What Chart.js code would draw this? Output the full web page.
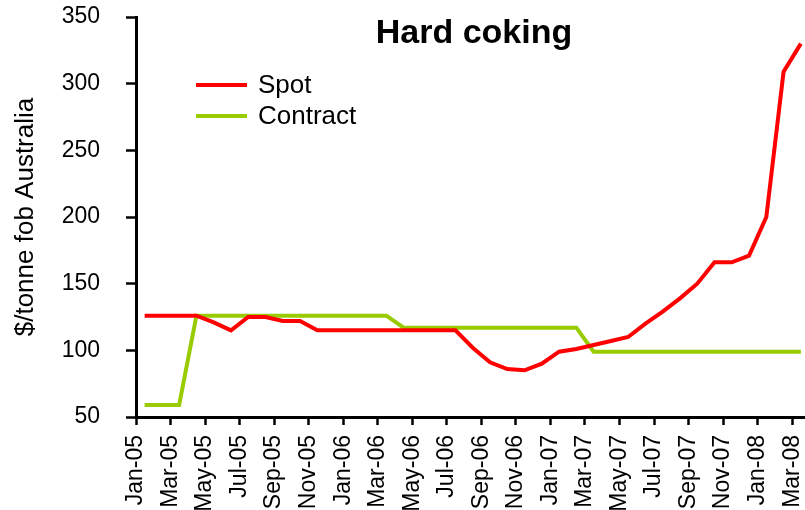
<!DOCTYPE html>
<html>
<head>
<meta charset="utf-8">
<script src="https://cdn.jsdelivr.net/npm/chart.js@4"></script>
<style>
  html, body { margin: 0; padding: 0; background: #ffffff; }
  #wrap { width: 805px; height: 510px; position: relative; }
</style>
</head>
<body>
<div id="wrap"><canvas id="c" width="805" height="510"></canvas></div>
<script>
const chartTitle = 'Hard coking';
const yAxisTitle = '$/tonne fob Australia';

const months = [
  'Jan-05','Feb-05','Mar-05','Apr-05','May-05','Jun-05','Jul-05','Aug-05','Sep-05','Oct-05','Nov-05','Dec-05',
  'Jan-06','Feb-06','Mar-06','Apr-06','May-06','Jun-06','Jul-06','Aug-06','Sep-06','Oct-06','Nov-06','Dec-06',
  'Jan-07','Feb-07','Mar-07','Apr-07','May-07','Jun-07','Jul-07','Aug-07','Sep-07','Oct-07','Nov-07','Dec-07',
  'Jan-08','Feb-08','Mar-08'
];

const spot = [
  126,126,126,126,121,115,125,125,122,122,115,115,
  115,115,115,115,115,115,115,102,91,86,85,90,
  99,101,104,107,110,120,129,139,150,166,166,171,
  200,309,330
];

const contract = [
  59,59,59,126,126,126,126,126,126,126,126,126,
  126,126,126,117,117,117,117,117,117,117,117,117,
  117,117,99,99,99,99,99,99,99,99,99,99,
  99,99,99
];

const yTicks = [50, 100, 150, 200, 250, 300, 350];
const labelEvery = 2;

const FONT = "'Liberation Sans', Arial, sans-serif";

const toPoints = arr => arr.map((v, i) => ({ x: i + 0.5, y: v }));

const overlayPlugin = {
  id: 'overlay',
  afterDraw(chart) {
    const ctx = chart.ctx;
    ctx.save();
    ctx.fillStyle = '#000';
    ctx.font = 'bold 34px ' + FONT;
    ctx.textAlign = 'center';
    ctx.textBaseline = 'alphabetic';
    ctx.fillText(chartTitle, 474, 43);
    const rows = [85, 116];
    chart.data.datasets.forEach((ds, k) => {
      const y = rows[k];
      ctx.strokeStyle = ds.borderColor;
      ctx.lineWidth = 4;
      ctx.beginPath();
      ctx.moveTo(196, y);
      ctx.lineTo(247, y);
      ctx.stroke();
      ctx.fillStyle = '#000';
      ctx.font = '26px ' + FONT;
      ctx.textAlign = 'left';
      ctx.textBaseline = 'middle';
      ctx.fillText(ds.label, 258, y + 1);
    });
    ctx.restore();
  }
};

new Chart(document.getElementById('c'), {
  type: 'line',
  data: {
    datasets: [
      { label: 'Spot', data: toPoints(spot), borderColor: '#ff0000', borderWidth: 4, pointRadius: 0, tension: 0, fill: false },
      { label: 'Contract', data: toPoints(contract), borderColor: '#99cc00', borderWidth: 4, pointRadius: 0, tension: 0, fill: false }
    ]
  },
  options: {
    responsive: false,
    animation: false,
    events: [],
    layout: { padding: { top: 17, right: 0, bottom: 0, left: 0 } },
    plugins: { legend: { display: false }, title: { display: false }, tooltip: { enabled: false } },
    scales: {
      x: {
        type: 'linear',
        min: 0,
        max: 38.74,
        afterBuildTicks: s => {
          const t = [];
          for (let i = 0; i < months.length; i += labelEvery) t.push({ value: i });
          s.ticks = t;
        },
        afterFit: s => { s.height = 93; s.paddingRight = 0; s.paddingLeft = 0; },
        ticks: {
          autoSkip: false,
          maxRotation: 90,
          minRotation: 90,
          padding: 10,
          color: '#000',
          font: { family: FONT, size: 23 },
          callback: v => months[v]
        },
        grid: { drawOnChartArea: false, drawTicks: true, tickLength: 8, tickWidth: 2.5, tickColor: '#000' },
        border: { display: true, color: '#000', width: 3 }
      },
      y: {
        min: 50,
        max: 350,
        afterBuildTicks: s => { s.ticks = yTicks.map(v => ({ value: v })); },
        afterFit: s => { s.width = 136; s.paddingTop = 0; s.paddingBottom = 0; },
        ticks: { padding: 26, color: '#000', font: { family: FONT, size: 23 } },
        grid: { drawOnChartArea: false, drawTicks: true, tickLength: 10, tickWidth: 2.5, tickColor: '#000' },
        border: { display: true, color: '#000', width: 3 },
        title: { display: true, text: yAxisTitle, color: '#000', font: { family: FONT, size: 26 }, padding: { top: 10, bottom: 0 } }
      }
    }
  },
  plugins: [overlayPlugin]
});
</script>
</body>
</html>
